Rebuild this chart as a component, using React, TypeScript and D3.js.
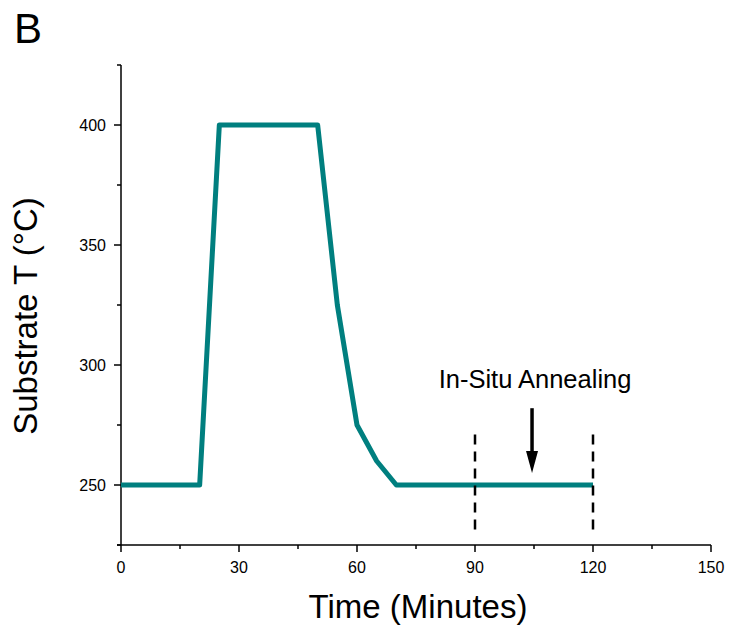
import React, { useEffect, useRef } from "react";
import * as d3 from "d3";

// Substrate temperature profile (minutes, °C)
const timeMin = [0, 20, 25, 50, 55, 60, 65, 70, 120];
const tempC = [250, 250, 400, 400, 325, 275, 260, 250, 250];

const xMajorTicks = [0, 30, 60, 90, 120, 150];
const xMinorTicks = [15, 45, 75, 105, 135];
const yMajorTicks = [250, 300, 350, 400];
const yMinorTicks = [225, 275, 325, 375, 425];

// Annealing window markers
const annealBounds = [90, 120];
const annealSpan = [230, 271];
const arrowTime = 104.5;
const arrowSpan = [282, 255];

const W = 729;
const H = 632;
const M = { left: 121, top: 65, right: 18, bottom: 87 };
const FONT = "'Liberation Sans', Arial, sans-serif";

export default function App() {
  const ref = useRef<SVGSVGElement>(null);

  useEffect(() => {
    const svg = d3.select(ref.current);
    svg.selectAll("*").remove();

    const x = d3.scaleLinear().domain([0, 150]).range([M.left, W - M.right]);
    const y = d3.scaleLinear().domain([225, 425]).range([H - M.bottom, M.top]);

    const axisColor = "#000";
    const g = svg.append("g");

    // axes lines
    g.append("line")
      .attr("x1", x(0)).attr("x2", x(0))
      .attr("y1", y(425)).attr("y2", y(225))
      .attr("stroke", axisColor).attr("stroke-width", 1.5);
    g.append("line")
      .attr("x1", x(0) - 4).attr("x2", x(150))
      .attr("y1", y(225)).attr("y2", y(225))
      .attr("stroke", axisColor).attr("stroke-width", 1.5);

    // x ticks
    xMajorTicks.forEach((t) => {
      g.append("line")
        .attr("x1", x(t)).attr("x2", x(t))
        .attr("y1", y(225)).attr("y2", y(225) + 7)
        .attr("stroke", axisColor).attr("stroke-width", 1.5);
      g.append("text")
        .attr("x", x(t)).attr("y", y(225) + 28)
        .attr("text-anchor", "middle")
        .attr("font-family", FONT).attr("font-size", 16)
        .text(t);
    });
    xMinorTicks.forEach((t) => {
      g.append("line")
        .attr("x1", x(t)).attr("x2", x(t))
        .attr("y1", y(225)).attr("y2", y(225) + 4)
        .attr("stroke", axisColor).attr("stroke-width", 1.5);
    });

    // y ticks
    yMajorTicks.forEach((t) => {
      g.append("line")
        .attr("x1", x(0) - 7).attr("x2", x(0))
        .attr("y1", y(t)).attr("y2", y(t))
        .attr("stroke", axisColor).attr("stroke-width", 1.5);
      g.append("text")
        .attr("x", x(0) - 15).attr("y", y(t) + 6)
        .attr("text-anchor", "end")
        .attr("font-family", FONT).attr("font-size", 16)
        .text(t);
    });
    yMinorTicks.forEach((t) => {
      g.append("line")
        .attr("x1", x(0) - 4).attr("x2", x(0))
        .attr("y1", y(t)).attr("y2", y(t))
        .attr("stroke", axisColor).attr("stroke-width", 1.5);
    });

    // temperature profile
    const line = d3.line<number>()
      .x((_, i) => x(timeMin[i]))
      .y((d) => y(d));
    g.append("path")
      .attr("d", line(tempC))
      .attr("fill", "none")
      .attr("stroke", "#007F7F")
      .attr("stroke-width", 5)
      .attr("stroke-linejoin", "round");

    // dashed annealing bounds
    annealBounds.forEach((t) => {
      g.append("line")
        .attr("x1", x(t)).attr("x2", x(t))
        .attr("y1", y(annealSpan[1])).attr("y2", y(annealSpan[0]))
        .attr("stroke", "#000").attr("stroke-width", 2.5)
        .attr("stroke-dasharray", "10,7");
    });

    // arrow
    const ax = x(arrowTime);
    const yTop = y(arrowSpan[0]);
    const yTip = y(arrowSpan[1]);
    g.append("line")
      .attr("x1", ax).attr("x2", ax)
      .attr("y1", yTop).attr("y2", yTip - 18)
      .attr("stroke", "#000").attr("stroke-width", 3.5);
    g.append("path")
      .attr("d", `M${ax - 6},${yTip - 22} L${ax + 6},${yTip - 22} L${ax},${yTip} Z`)
      .attr("fill", "#000");

    g.append("text")
      .attr("x", ax + 3).attr("y", 388)
      .attr("text-anchor", "middle")
      .attr("font-family", FONT).attr("font-size", 25.5)
      .text("In-Situ Annealing");

    // axis titles
    g.append("text")
      .attr("x", (x(0) + x(150)) / 2 + 2).attr("y", 618)
      .attr("text-anchor", "middle")
      .attr("font-family", FONT).attr("font-size", 33)
      .text("Time (Minutes)");

    g.append("text")
      .attr("transform", `translate(37, 316) rotate(-90)`)
      .attr("text-anchor", "middle")
      .attr("font-family", FONT).attr("font-size", 33)
      .text("Substrate T (°C)");

    g.append("text")
      .attr("x", 14).attr("y", 43)
      .attr("font-family", FONT).attr("font-size", 42)
      .text("B");
  }, []);

  return (
    <svg
      ref={ref}
      width={W}
      height={H}
      style={{ display: "block", position: "absolute", left: 0, top: 0, background: "#fff" }}
    />
  );
}
